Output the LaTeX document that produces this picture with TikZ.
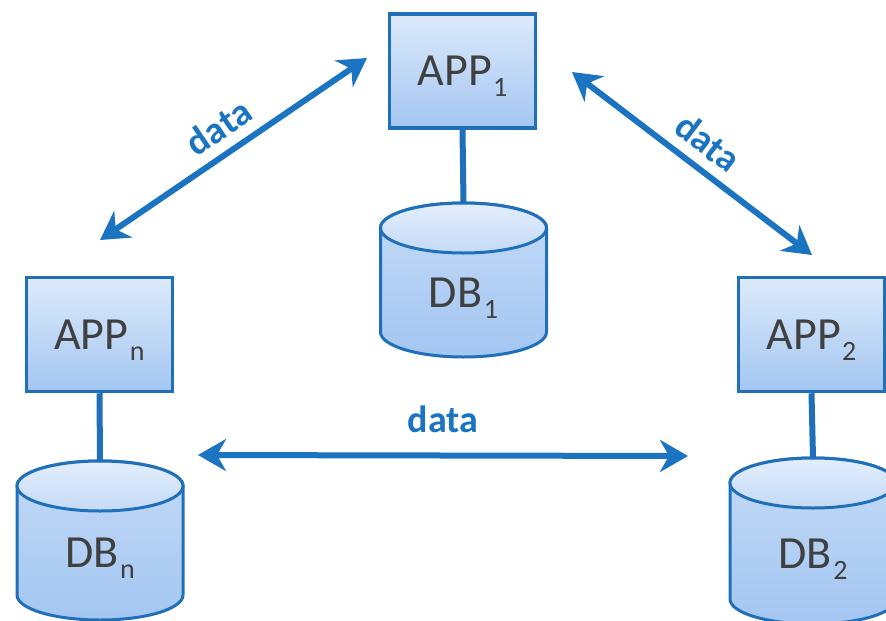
\documentclass[tikz,border=0pt]{standalone}
\usepackage{fontspec}
\setmainfont{Carlito}
\usetikzlibrary{arrows.meta}

\definecolor{edgeblue}{HTML}{1F6FB9}
\definecolor{arrowblue}{HTML}{1B74C1}
\definecolor{fillTop}{HTML}{DDEAFB}
\definecolor{fillBot}{HTML}{A3C6F1}
\definecolor{capTop}{HTML}{E3EEFC}
\definecolor{capBot}{HTML}{C4DAF7}
\definecolor{textgray}{HTML}{404040}

% lowered index after a name, e.g. APP_1
\newcommand\subidx[1]{\kern1.5pt\raisebox{-11pt}{\fontsize{28}{30}\selectfont #1}}

% database cylinder: name, centre x, top y, bottom y, label
\newcommand\database[5]{%
  \path[dbbody] (#2-83,#3+25) -- (#2-83,#4-25)
    arc[start angle=180,end angle=360,x radius=83pt,y radius=25pt]
    -- (#2+83,#3+25)
    arc[start angle=0,end angle=180,x radius=83pt,y radius=25pt] -- cycle;
  \path[dbcap] (#2,#3+25) ellipse[x radius=83pt,y radius=25pt];
  \node[dbframe, minimum height={#4-#3}] (#1) at (#2,{(#3+#4)/2}) {};
  \node[boxtext] (#1-text) at (#2,{(#3+25+#4)/2}) {#5};
}

\tikzset{
  appbox/.style={rectangle, draw=edgeblue, line width=3.5pt,
    top color=fillTop, bottom color=fillBot,
    minimum width=146pt, minimum height=114pt,
    font=\fontsize{46}{50}\selectfont, text=textgray, text depth=0pt},
  boxtext/.style={font=\fontsize{46}{50}\selectfont, text=textgray,
    text depth=0pt, inner sep=0pt},
  dbbody/.style={draw=edgeblue, line width=3pt, top color=capBot, bottom color=fillBot},
  dbcap/.style={draw=edgeblue, line width=3pt, top color=capTop, bottom color=capBot},
  dbframe/.style={rectangle, draw=none, minimum width=166pt, inner sep=0pt},
  link/.style={draw=edgeblue, line width=6pt},
  dataarrow/.style={draw=arrowblue, line width=6pt,
    {Stealth[length=28pt,width=32pt,inset=9pt]}-{Stealth[length=28pt,width=32pt,inset=9pt]}},
  datalabel/.style={font=\fontsize{38}{40}\selectfont\bfseries, text=arrowblue, inner sep=0pt}
}

\begin{document}
\begin{tikzpicture}[x=1pt, y=-1pt]
  \useasboundingbox[fill=white] (0,0) rectangle (886,621);

  % databases
  \database{db1}{463.5}{203}{357}{DB\subidx{1}}
  \database{dbn}{100}{461}{620}{DB\subidx{n}}
  \database{db2}{813}{458}{624}{DB\subidx{2}}

  % applications
  \node[appbox] (app1) at (462.5,71) {APP\subidx{1}};
  \node[appbox] (appn) at (99.5,334.5) {APP\subidx{n}};
  \node[appbox] (app2) at (811.5,334.5) {APP\subidx{2}};

  % each application talks to its own database
  \draw[link] (app1.south) -- (db1.north);
  \draw[link] (appn.south) -- (dbn.north);
  \draw[link] (app2.south) -- (db2.north);

  % ends of the data exchange arrows
  \coordinate (la) at (100,240);
  \coordinate (lb) at (367,58);
  \coordinate (ra) at (572,72);
  \coordinate (rb) at (812,255);
  \coordinate (ha) at (198,455);
  \coordinate (hb) at (688,456);

  \draw[dataarrow] (la) -- node[datalabel, sloped, above=10pt] {data} (lb);
  \draw[dataarrow] (ra) -- node[datalabel, sloped, above=10pt] {data} (rb);
  \draw[dataarrow] (ha) -- node[datalabel, above=20pt] {data} (hb);
\end{tikzpicture}
\end{document}
